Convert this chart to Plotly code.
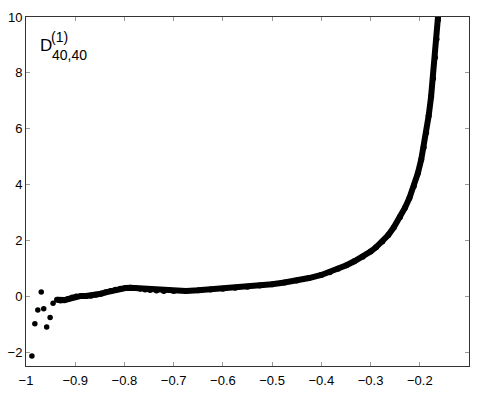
import plotly.graph_objects as go

# scattered points at the far left end
scatter_x = [-0.988, -0.982, -0.976, -0.969, -0.964, -0.958, -0.951, -0.945]
scatter_y = [-2.14, -0.99, -0.49, 0.15, -0.45, -1.10, -0.76, -0.25]

# dense curve
curve_x = [
    -0.937, -0.930, -0.922, -0.914, -0.906, -0.898, -0.888, -0.878, -0.868, -0.858,
    -0.848, -0.838, -0.828, -0.818, -0.808, -0.798, -0.788, -0.778, -0.768, -0.758,
    -0.748, -0.735, -0.720, -0.700, -0.675, -0.650, -0.625, -0.600, -0.575, -0.550,
    -0.525, -0.500, -0.475, -0.450, -0.425, -0.400, -0.383, -0.366, -0.349, -0.333,
    -0.316, -0.300, -0.289, -0.276, -0.264, -0.253, -0.240, -0.230, -0.221, -0.212,
    -0.204, -0.197, -0.192, -0.187, -0.182, -0.177, -0.173, -0.169, -0.166, -0.163,
    -0.161,
]
curve_y = [
    -0.13, -0.15, -0.14, -0.10, -0.05, -0.01, 0.01, 0.01, 0.02, 0.05,
    0.09, 0.14, 0.19, 0.23, 0.27, 0.29, 0.30, 0.29, 0.27, 0.24,
    0.22, 0.20, 0.19, 0.19, 0.19, 0.21, 0.24, 0.27, 0.30, 0.34,
    0.38, 0.43, 0.49, 0.56, 0.65, 0.76, 0.86, 0.98, 1.11, 1.25,
    1.41, 1.60, 1.75, 1.96, 2.19, 2.46, 2.84, 3.17, 3.52, 3.95,
    4.40, 4.90, 5.33, 5.85, 6.45, 7.15, 7.80, 8.55, 9.20, 9.90,
    10.40,
]

x_ticks = [-1, -0.9, -0.8, -0.7, -0.6, -0.5, -0.4, -0.3, -0.2]
x_labels = ["\u22121", "\u22120.9", "\u22120.8", "\u22120.7", "\u22120.6",
            "\u22120.5", "\u22120.4", "\u22120.3", "\u22120.2"]
y_ticks = [-2, 0, 2, 4, 6, 8, 10]
y_labels = ["\u22122", "0", "2", "4", "6", "8", "10"]

FONT = "Liberation Sans, Arial, Helvetica, sans-serif"

fig = go.Figure()

fig.add_trace(go.Scatter(
    x=curve_x, y=curve_y,
    mode="lines+markers",
    line=dict(color="black", width=6),
    marker=dict(color="black", size=6),
    showlegend=False,
))
fig.add_trace(go.Scatter(
    x=scatter_x, y=scatter_y,
    mode="markers",
    marker=dict(color="black", size=5.5),
    showlegend=False,
))

axis_style = dict(
    showline=True, mirror="ticks", linecolor="#333", linewidth=1,
    ticks="inside", ticklen=4, tickcolor="#999", tickwidth=1,
    showgrid=False, zeroline=False,
    tickfont=dict(family=FONT, size=13, color="black"),
)

fig.update_layout(
    width=478, height=396,
    margin=dict(l=24, r=8, t=17, b=27),
    plot_bgcolor="white",
    paper_bgcolor="white",
    xaxis=dict(range=[-1, -0.1], tickvals=x_ticks, ticktext=x_labels,
               ticklabelstandoff=2, **axis_style),
    yaxis=dict(range=[-2.5, 10], tickvals=y_ticks, ticktext=y_labels, **axis_style),
    annotations=[
        dict(text="D", xref="paper", yref="paper", x=0.026, y=0.919,
             xanchor="left", yanchor="middle", showarrow=False,
             font=dict(family=FONT, size=17, color="black")),
        dict(text="(1)", xref="paper", yref="paper", x=0.053, y=0.942,
             xanchor="left", yanchor="middle", showarrow=False,
             font=dict(family=FONT, size=14, color="black")),
        dict(text="40,40", xref="paper", yref="paper", x=0.055, y=0.892,
             xanchor="left", yanchor="middle", showarrow=False,
             font=dict(family=FONT, size=14, color="black")),
    ],
)

fig.write_html(
    "out.html",
    config={"displayModeBar": False},
    post_script="document.body.style.margin='0';",
)
